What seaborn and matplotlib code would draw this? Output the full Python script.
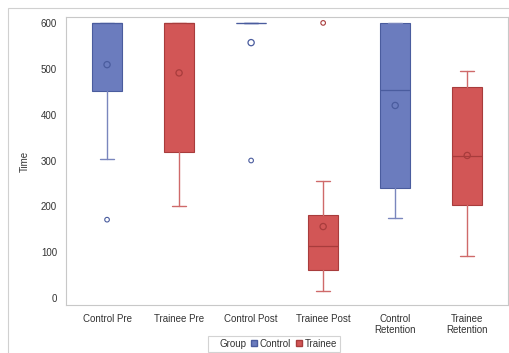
import matplotlib
matplotlib.use("Agg")
import matplotlib.pyplot as plt
import seaborn as sns
import pandas as pd
from matplotlib.patches import Patch, Rectangle

categories = ["Control Pre", "Trainee Pre", "Control Post", "Trainee Post",
              "Control\nRetention", "Trainee\nRetention"]
groups = ["Control", "Trainee", "Control", "Trainee", "Control", "Trainee"]
q1 = [452, 318, 600, 61, 241, 202]
medians = [600, 600, 600, 113, 454, 310]
q3 = [600, 600, 600, 181, 600, 461]
whis_low = [304, 200, 600, 15, 174, 92]
whis_high = [600, 600, 600, 255, 600, 496]
means = [509, 491, 557, 156, 420, 311]
outliers = [[171], [], [300], [600], [], []]

sns.set_theme(style="white")
plt.rcParams['font.family'] = ['Liberation Sans', 'DejaVu Sans']

fill = {"Control": "#6b7cbe", "Trainee": "#d25656"}
edge = {"Control": "#4a5c9e", "Trainee": "#a83c3c"}
line = {"Control": "#7a86bd", "Trainee": "#cf6a6a"}

fig = plt.figure(figsize=(5.10, 3.53), dpi=100)
ax = fig.add_axes([0.1294, 0.136, 0.9666 - 0.1294 + 0.03, 0.816])

for i, cat in enumerate(categories):
    g = groups[i]
    stats = [dict(label=cat, q1=q1[i], med=medians[i], q3=q3[i],
                  whislo=whis_low[i], whishi=whis_high[i], fliers=[])]
    ax.bxp(stats, positions=[i], widths=0.42, capwidths=0.2,
           showfliers=False, patch_artist=True,
           boxprops=dict(facecolor=fill[g], edgecolor=edge[g], linewidth=0.8),
           medianprops=dict(color=edge[g], linewidth=0.9),
           whiskerprops=dict(color=line[g], linewidth=1.0),
           capprops=dict(color=line[g], linewidth=1.0))

# means
mean_df = pd.DataFrame({"x": range(len(categories)), "y": means, "Group": groups})
sns.scatterplot(data=mean_df, x="x", y="y", hue="Group", palette=edge,
                marker="o", s=20, linewidth=0.9, legend=False, ax=ax, zorder=5)
for c in ax.collections:
    c.set_facecolor("none")
    c.set_edgecolor([edge[g] for g in groups])

# outliers
out_x, out_y, out_g = [], [], []
for i, vals in enumerate(outliers):
    for v in vals:
        out_x.append(i)
        out_y.append(v)
        out_g.append(groups[i])
ax.scatter(out_x, out_y, s=11, facecolors="none",
           edgecolors=[edge[g] for g in out_g], linewidths=0.8, zorder=5)

ax.set_xlim(-0.57, 5.57)
ax.set_ylim(-15, 613)
ax.set_xticks(range(len(categories)))
ax.set_xticklabels(categories, fontsize=7, color="#333333", linespacing=1.1)
ax.set_yticks([0, 100, 200, 300, 400, 500, 600])
ax.tick_params(axis="y", labelsize=7, colors="#333333", length=3, width=0.6)
ax.tick_params(axis="x", length=3, width=0.6, colors="#333333")
ax.set_xlabel("")
ax.set_ylabel("Time", fontsize=7, color="#333333", labelpad=8)
for s in ax.spines.values():
    s.set_color("#c8c8c8")
    s.set_linewidth(0.8)

# outer frame
fig.patches.append(Rectangle((8 / 510, -0.05), 1.2, 1 - 8 / 353 + 0.05,
                             transform=fig.transFigure, fill=False,
                             edgecolor="#d0d0d0", linewidth=0.8, zorder=0))

handles = [Patch(visible=False, label="Group"),
           Patch(facecolor=fill["Control"], edgecolor=edge["Control"], label="Control"),
           Patch(facecolor=fill["Trainee"], edgecolor=edge["Trainee"], label="Trainee")]
leg = fig.legend(handles=handles, loc="center", bbox_to_anchor=(0.537, 0.026),
                 ncol=3, fontsize=7, frameon=True, handlelength=0.6,
                 handleheight=0.6, handletextpad=0.3, columnspacing=0.5,
                 borderpad=0.3, borderaxespad=0, fancybox=False,
                 labelcolor="#333333")
leg.get_frame().set_edgecolor("#c8c8c8")
leg.get_frame().set_linewidth(0.8)

fig.savefig("out.png", dpi=100)
